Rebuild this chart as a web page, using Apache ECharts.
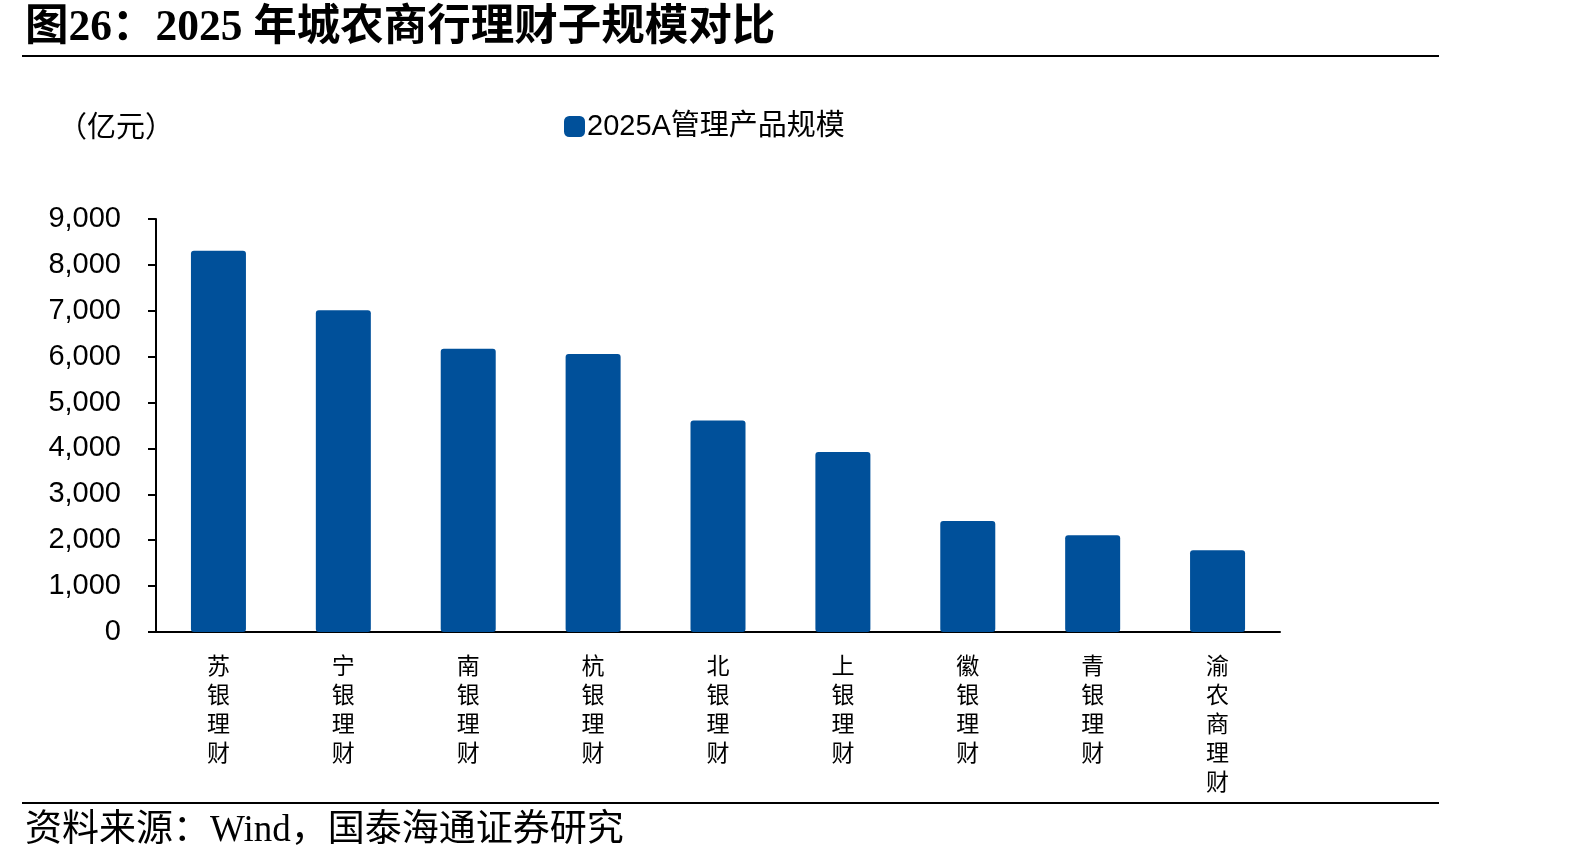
<!DOCTYPE html>
<html>
<head>
<meta charset="utf-8">
<script src="https://cdn.jsdelivr.net/npm/echarts@6/dist/echarts.min.js"></script>
<style>
html,body{margin:0;padding:0;background:#fff;}
#c{width:1594px;height:862px;}
</style>
</head>
<body>
<div id="c"></div>
<script>
const categories = ['苏银理财','宁银理财','南银理财','杭银理财','北银理财','上银理财','徽银理财','青银理财','渝农商理财'];
const seriesName = '2025A管理产品规模';
const values = [8310, 7010, 6170, 6060, 4610, 3920, 2420, 2110, 1780];
const yTicks = [0, 1000, 2000, 3000, 4000, 5000, 6000, 7000, 8000, 9000];

const chart = echarts.init(document.getElementById('c'), null, {renderer:'canvas'});
const cjk = '"Noto Sans CJK SC", "Noto Sans CJK JP", sans-serif';
chart.setOption({
  animation: false,
  backgroundColor: '#fff',
  title: [{
    text: '图26：2025 年城农商行理财子规模对比',
    left: 20, top: 2,
    textStyle: {fontFamily: '"Liberation Serif", ' + cjk, fontWeight: 'bold', fontSize: 43.5, color: '#000'}
  }, {
    text: '资料来源：Wind，国泰海通证券研究',
    left: 20, top: 808,
    textStyle: {fontFamily: '"Liberation Serif", ' + cjk, fontWeight: 'normal', fontSize: 37, color: '#000'}
  }, {
    text: '（亿元）',
    left: 53, top: 106,
    textStyle: {fontFamily: cjk, fontWeight: 'normal', fontSize: 29, color: '#000'}
  }],
  graphic: [
    {type: 'line', shape: {x1: 22, y1: 56, x2: 1439, y2: 56}, style: {stroke: '#000', lineWidth: 2}},
    {type: 'line', shape: {x1: 22, y1: 803, x2: 1439, y2: 803}, style: {stroke: '#000', lineWidth: 2}}
  ],
  legend: {
    data: [seriesName],
    left: 559, top: 107,
    itemWidth: 21, itemHeight: 21, itemGap: 4,
    icon: 'roundRect',
    textStyle: {fontFamily: '"Liberation Sans", ' + cjk, fontSize: 29, color: '#000', padding: [0,0,0,-3]}
  },
  grid: {left: 156, right: 1594 - 1280, top: 219, bottom: 862 - 632, containLabel: false},
  xAxis: {
    type: 'category',
    data: categories,
    axisLine: {lineStyle: {color: '#000', width: 2}},
    axisTick: {show: false},
    axisLabel: {
      interval: 0,
      margin: 19,
      fontFamily: cjk, fontSize: 23, color: '#000', lineHeight: 29,
      formatter: v => v.split('').join('\n')
    }
  },
  yAxis: {
    type: 'value',
    min: 0, max: 9000, interval: 1000,
    axisLine: {show: true, lineStyle: {color: '#000', width: 2}},
    axisTick: {show: true, inside: false, length: 8, lineStyle: {color: '#000', width: 2}},
    splitLine: {show: false},
    axisLabel: {
      margin: 35,
      fontFamily: '"Liberation Sans", Arial, sans-serif', fontSize: 29, color: '#000',
      formatter: v => yTicks.includes(v) ? v.toLocaleString('en-US') : ''
    }
  },
  series: [{
    name: seriesName,
    type: 'bar',
    data: values,
    barWidth: 55,
    itemStyle: {color: '#00509A', borderRadius: [3,3,3,3]},
    z: 1
  }]
});
</script>
</body>
</html>
